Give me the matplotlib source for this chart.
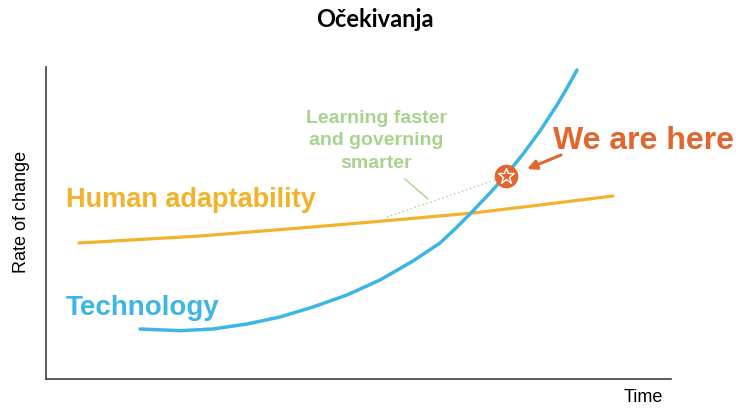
import matplotlib
matplotlib.use("Agg")
import matplotlib.pyplot as plt

# ---- data (x: time units, y: rate-of-change units) ----
human_x = [33, 154, 254, 314, 354, 427, 494, 567]
human_y = [136, 143, 151, 156, 159.5, 166, 174, 183]

tech_x = [94, 134, 167, 201, 234, 267, 301, 334, 367, 394, 409, 424, 444, 461, 477, 494, 511, 521, 531]
tech_y = [50, 48.3, 50, 55, 62, 72, 84, 99, 118, 136, 150, 165, 186, 205, 225, 248, 274, 291, 309]

here_point = (460, 203)
dotted_x = [341, 452]
dotted_y = [162, 200]
leader_x = [359, 382]
leader_y = [200, 180]

title = "Očekivanja"
xlabel = "Time"
ylabel = "Rate of change"

BLUE = "#3DB5E6"
GOLD = "#F2B22A"
ORANGE = "#E2662F"
GREEN = "#A8D38D"
SPINE = "#404040"

W, H = 736, 408
fig = plt.figure(figsize=(W / 100, H / 100), dpi=100)
ax = fig.add_axes([46 / W, (H - 379) / H, 625 / W, 312 / H])
ax.set_xlim(0, 625)
ax.set_ylim(0, 312)
for s in ("top", "right"):
    ax.spines[s].set_visible(False)
for s in ("left", "bottom"):
    ax.spines[s].set_color(SPINE)
    ax.spines[s].set_linewidth(1.2)
ax.set_xticks([])
ax.set_yticks([])

font = "Liberation Sans"

ax.plot(human_x, human_y, color=GOLD, lw=2.3, solid_capstyle="round", solid_joinstyle="round")
ax.plot(tech_x, tech_y, color=BLUE, lw=2.5, solid_capstyle="round", solid_joinstyle="round")

ax.plot(dotted_x, dotted_y, color=GREEN, lw=1.0, ls=(0, (1, 2)))
ax.plot(leader_x, leader_y, color=GREEN, lw=1.0)

ax.plot(*here_point, marker="o", ms=17, color=ORANGE, mec="none", zorder=5)
ax.plot(*here_point, marker="*", ms=12, color=ORANGE, mec="white", mew=1.0, zorder=6)

ax.annotate("", xy=(481, 210), xytext=(515, 224),
            arrowprops=dict(arrowstyle="-|>", color=ORANGE, lw=2.2,
                            mutation_scale=14, shrinkA=0, shrinkB=0))

ax.text(20, 172, "Human adaptability", color=GOLD, fontsize=19.5,
        fontweight="bold", family=font, ha="left", va="baseline")
ax.text(20, 64, "Technology", color=BLUE, fontsize=20,
        fontweight="bold", family=font, ha="left", va="baseline")
ax.text(507, 230, "We are here", color=ORANGE, fontsize=23,
        fontweight="bold", family=font, ha="left", va="baseline", clip_on=False)

for txt, yb in (("Learning faster", 256), ("and governing", 234), ("smarter", 211)):
    ax.text(330, yb, txt, color=GREEN, fontsize=14, fontweight="bold",
            family=font, ha="center", va="baseline")

fig.text(375 / W, (H - 27) / H, title, fontsize=17, fontweight="bold",
         family="Lato", ha="center", va="baseline")
fig.text(643 / W, (H - 402) / H, xlabel, fontsize=13, family=font,
         ha="center", va="baseline")
fig.text(22 / W, (H - 212) / H, ylabel, fontsize=13, family=font,
         ha="center", va="center", rotation=90)

fig.savefig("out.png", dpi=100)
